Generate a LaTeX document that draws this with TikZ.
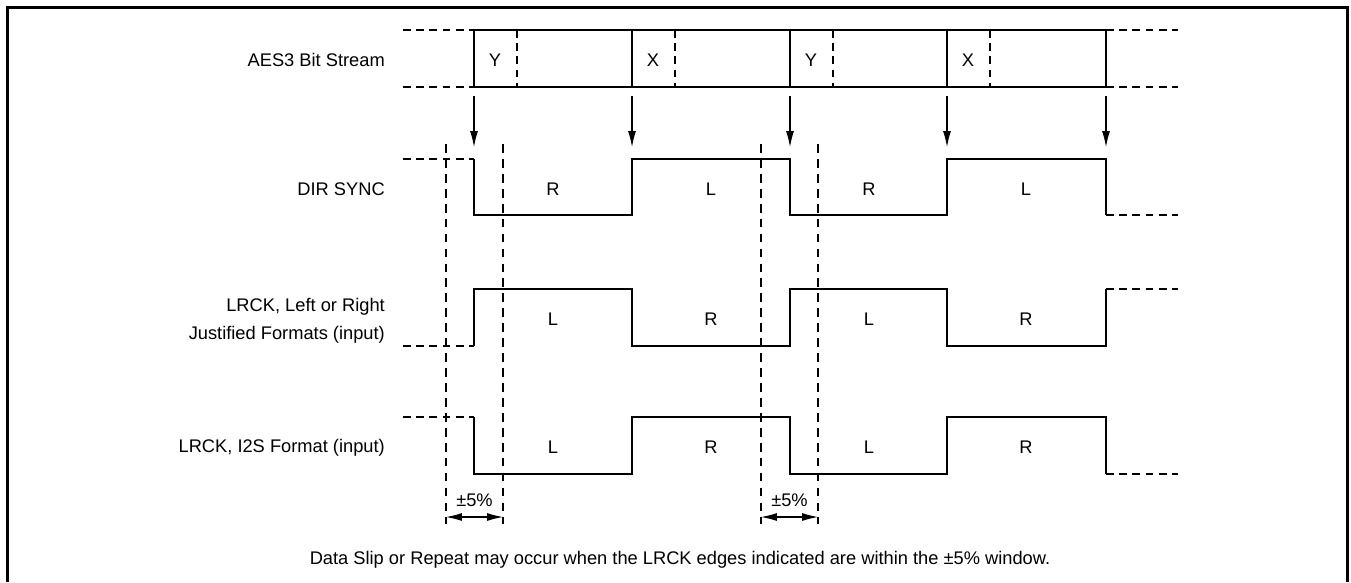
\documentclass[tikz,border=0pt]{standalone}
\usepackage{fontspec}
\setmainfont{Liberation Sans}
\usetikzlibrary{arrows.meta}

\tikzset{
  sig/.style={line width=1.4pt},
  sigdash/.style={line width=1.4pt,dash pattern=on 4.5pt off 3pt},
  guide/.style={line width=0.6pt,dash pattern=on 5pt off 3.5pt},
  lbl/.style={font=\fontsize{10.4}{15.9}\selectfont},
  rowlbl/.style={lbl,anchor=east,align=right},
}

\begin{document}
\begin{tikzpicture}[x=0.2mm,y=-0.2mm,>={Latex[length=9pt,width=4.5pt]}]
  \useasboundingbox (0,0) rectangle (1351,582);
  % frame, open at the bottom
  \draw[line width=1.7pt] (7.5,582) -- (7.5,7.5) -- (1347.5,7.5) -- (1347.5,582);

  % row labels
  \node[rowlbl] (aes) at (391,60) {AES3 Bit Stream};
  \node[rowlbl] (dir) at (391,189) {DIR SYNC};
  \node[rowlbl] (lj) at (391,321) {LRCK, Left or Right\\Justified Formats (input)};
  \node[rowlbl] (i2s) at (391,448) {LRCK, I2S Format (input)};

  % AES3 bit stream
  \draw[sigdash] (403,30) -- (474,30) (403,87) -- (474,87);
  \draw[sigdash] (1106,30) -- (1178,30) (1106,87) -- (1178,87);
  \draw[sig] (474,30) -- (1106,30) (474,87) -- (1106,87);
  \foreach \x in {474,632,790,947,1106}
    \draw[sig] (\x,30) -- (\x,87);
  \foreach \x in {517,675,833,990}
    \draw[sigdash] (\x,30) -- (\x,87);
  \foreach \x/\t in {474/Y,632/X,790/Y,947/X}
    \node[lbl] (pre\x) at (\x+21,60) {\t};

  % frame edge arrows
  \foreach \x in {474,632,790,947,1106} {
    \coordinate (a\x) at (\x,96);
    \coordinate (b\x) at (\x,147);
    \draw[->,line width=0.6pt] (a\x) -- (b\x);
  }

  % DIR SYNC
  \draw[sigdash] (403,159) -- (474,159);
  \draw[sig] (474,159) -- (474,215) -- (632,215) -- (632,159) -- (790,159)
    -- (790,215) -- (947,215) -- (947,159) -- (1106,159) -- (1106,215);
  \draw[sigdash] (1106,215) -- (1178,215);
  \foreach \x/\t in {553/R,711/L,869/R,1026/L}
    \node[lbl] (d\x) at (\x,189) {\t};

  % LRCK, left or right justified
  \draw[sigdash] (403,346) -- (474,346);
  \draw[sig] (474,346) -- (474,289) -- (632,289) -- (632,346) -- (790,346)
    -- (790,289) -- (947,289) -- (947,346) -- (1106,346) -- (1106,289);
  \draw[sigdash] (1106,289) -- (1178,289);
  \foreach \x/\t in {553/L,711/R,869/L,1026/R}
    \node[lbl] (j\x) at (\x,319) {\t};

  % LRCK, I2S
  \draw[sigdash] (403,417) -- (474,417);
  \draw[sig] (474,417) -- (474,474) -- (632,474) -- (632,417) -- (790,417)
    -- (790,474) -- (947,474) -- (947,417) -- (1106,417) -- (1106,474);
  \draw[sigdash] (1106,474) -- (1178,474);
  \foreach \x/\t in {553/L,711/R,869/L,1026/R}
    \node[lbl] (s\x) at (\x,447) {\t};

  % +-5% windows
  \foreach \l/\r in {446/503,761/818} {
    \coordinate (wl\l) at (\l,517);
    \coordinate (wr\l) at (\r,517);
    \draw[guide] (\l,144) -- (\l,524);
    \draw[guide] (\r,144) -- (\r,524);
    \draw[<->,line width=0.6pt] (wl\l) -- (wr\l);
    \node[lbl] (w\l) at ({(\l+\r)/2},500) {±5\%};
  }

  % caption
  \node[lbl] (note) at (680,560)
    {Data Slip or Repeat may occur when the LRCK edges indicated are within the ±5\% window.};
\end{tikzpicture}
\end{document}
